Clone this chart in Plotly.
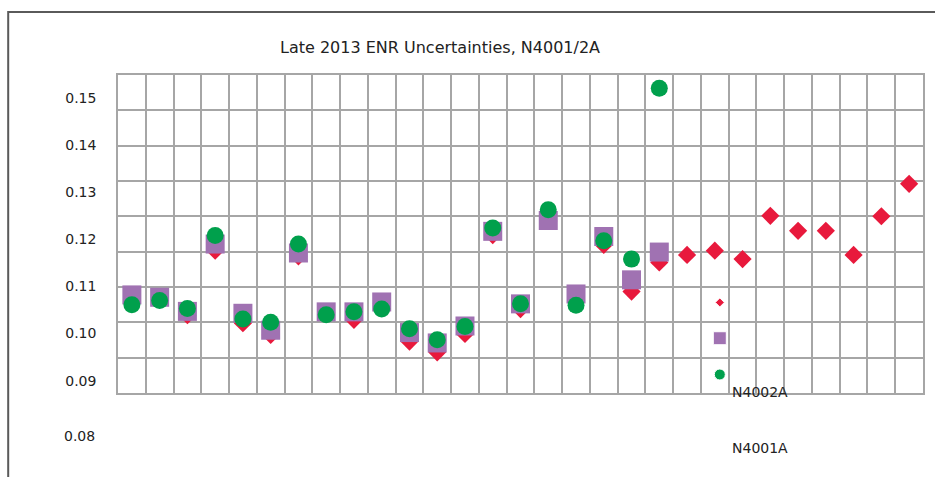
import plotly.graph_objects as go

# ---- data ----
columns = list(range(1, 30))

n4001_red = [0.1072, 0.1072, 0.1039, 0.1176, 0.1022, 0.0997, 0.1164, 0.1044, 0.1029, 0.1063,
             0.0983, 0.0960, 0.0999, 0.1209, 0.1052, 0.1239, 0.1072, 0.1188, 0.1089, 0.1151,
             0.1167, 0.1176, 0.1158, 0.1250, 0.1218, 0.1218, 0.1167, 0.1249, 0.1318]

n4002_purple = [0.1082, 0.1077, 0.1047, 0.1190, 0.1043, 0.1007, 0.1171, 0.1046, 0.1046, 0.1067,
                0.1002, 0.0980, 0.1016, 0.1217, 0.1063, 0.1240, 0.1084, 0.1206, 0.1114, 0.1173]

green_series = [0.1061, 0.1070, 0.1053, 0.1208, 0.1031, 0.1024, 0.1190, 0.1040, 0.1046, 0.1052,
                0.1010, 0.0987, 0.1015, 0.1224, 0.1063, 0.1263, 0.1060, 0.1197, 0.1158, 0.1521]

key_x = [22.18, 22.18, 22.18]
key_y = [0.1066, 0.0990, 0.0913]

y_tick_vals = [0.09, 0.10, 0.11, 0.12, 0.13, 0.14, 0.15]
y_tick_text = ["0.09", "0.10", "0.11", "0.12", "0.13", "0.14", "0.15"]

title_text = "Late 2013 ENR Uncertainties, N4001/2A"

RED = "#E8193C"
PURPLE = "#A072B2"
GREEN = "#00A04C"
GRID = "#A6A6A6"
FONT = "DejaVu Sans"

fig = go.Figure()

fig.add_trace(go.Scatter(x=columns[:len(n4001_red)], y=n4001_red, mode="markers",
                         marker=dict(symbol="diamond", size=14, color=RED, opacity=1),
                         showlegend=False, cliponaxis=False))
fig.add_trace(go.Scatter(x=columns[:len(n4002_purple)], y=n4002_purple, mode="markers",
                         marker=dict(symbol="square", size=19, color=PURPLE, opacity=1),
                         showlegend=False, cliponaxis=False))
fig.add_trace(go.Scatter(x=columns[:len(green_series)], y=green_series, mode="markers",
                         marker=dict(symbol="circle", size=17, color=GREEN, opacity=1),
                         showlegend=False, cliponaxis=False))
# small key markers
fig.add_trace(go.Scatter(x=key_x, y=key_y, mode="markers",
                         marker=dict(symbol=["diamond", "square", "circle"], size=[7, 13, 11],
                                     color=[RED, PURPLE, GREEN], opacity=1),
                         showlegend=False))
# dummy trace to host the horizontal grid axis
fig.add_trace(go.Scatter(x=[1], y=[0], yaxis="y2", mode="none", showlegend=False, hoverinfo="skip"))

fig.update_layout(
    width=935, height=477,
    margin=dict(l=118, r=10, t=75, b=84),
    paper_bgcolor="white", plot_bgcolor="white",
    title=dict(text=title_text, x=0.4706, xref="container", xanchor="center",
               y=0.9015, yref="container", yanchor="middle",
               font=dict(family=FONT, size=16, color="#222222")),
    xaxis=dict(range=[0.5, 29.5], tickvals=[i + 0.5 for i in range(0, 30)],
               showticklabels=False, ticks="", showgrid=True, gridcolor=GRID, gridwidth=1.5,
               showline=True, linecolor=GRID, linewidth=1.5, mirror=True, zeroline=False),
    yaxis=dict(range=[0.08737, 0.1549], tickvals=y_tick_vals, ticktext=y_tick_text,
               showgrid=False, zeroline=False, ticks="", ticklabelstandoff=17,
               tickfont=dict(family=FONT, size=14, color="#222222"),
               showline=True, linecolor=GRID, linewidth=1.5, mirror=True),
    yaxis2=dict(range=[0, 9], overlaying="y", tickvals=list(range(10)), showticklabels=False,
                showgrid=True, gridcolor=GRID, gridwidth=1.5, zeroline=False, ticks=""),
    font=dict(family=FONT, color="#222222"),
)

# outer frame (top and left edges visible)
fig.add_shape(type="rect", xref="paper", yref="paper",
              x0=-0.1364, x1=1.05, y0=-0.4, y1=1.1985,
              line=dict(color="#5A5A5A", width=2), fillcolor="rgba(0,0,0,0)", layer="above")

fig.add_annotation(text="0.08", xref="paper", yref="paper", x=-0.0264, y=-0.134,
                   xanchor="right", yanchor="middle", showarrow=False,
                   font=dict(family=FONT, size=14, color="#222222"))
fig.add_annotation(text="N4002A", xref="paper", yref="paper", x=0.798, y=0.004,
                   xanchor="center", yanchor="middle", showarrow=False,
                   font=dict(family=FONT, size=14, color="#222222"))
fig.add_annotation(text="N4001A", xref="paper", yref="paper", x=0.798, y=-0.172,
                   xanchor="center", yanchor="middle", showarrow=False,
                   font=dict(family=FONT, size=14, color="#222222"))

fig.write_html("out.html", config={"displayModeBar": False},
               post_script="document.body.style.margin='0';document.body.style.overflow='hidden';")
